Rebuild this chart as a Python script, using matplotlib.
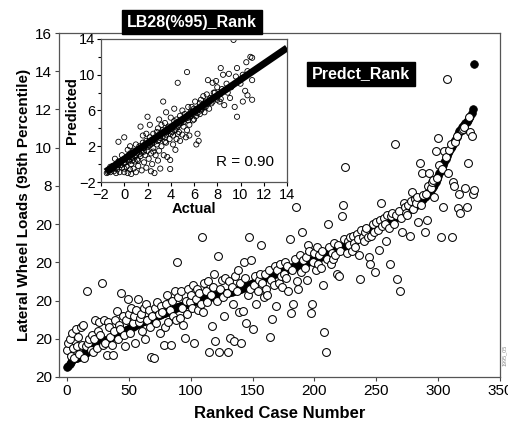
import matplotlib
matplotlib.use("Agg")
import matplotlib.pyplot as plt
import numpy as np
from matplotlib.ticker import MultipleLocator

plt.rcParams['font.family'] = ['Liberation Sans', 'DejaVu Sans']

# ---- main chart data: cases ranked by predicted value ----
pred_rank = [
    -1.5, -1.4, -1.3, -1.2, -1.1, -1.05, -1.02, -1.0, -0.98, -0.96,
    -0.95, -0.9, -0.86, -0.82, -0.77, -0.73, -0.68, -0.64, -0.6, -0.55,
    -0.51, -0.47, -0.42, -0.38, -0.34, -0.29, -0.25, -0.2, -0.17, -0.14,
    -0.11, -0.08, -0.05, -0.02, 0.01, 0.04, 0.08, 0.12, 0.16, 0.2,
    0.23, 0.26, 0.28, 0.3, 0.33, 0.37, 0.4, 0.43, 0.46, 0.5,
    0.53, 0.56, 0.6, 0.63, 0.66, 0.7, 0.73, 0.76, 0.8, 0.83,
    0.86, 0.88, 0.91, 0.94, 0.96, 0.99, 1.02, 1.04, 1.07, 1.1,
    1.12, 1.15, 1.17, 1.2, 1.23, 1.25, 1.28, 1.31, 1.34, 1.37,
    1.39, 1.42, 1.45, 1.48, 1.5, 1.53, 1.56, 1.59, 1.62, 1.65,
    1.68, 1.7, 1.72, 1.74, 1.77, 1.79, 1.81, 1.83, 1.86, 1.88,
    1.9, 1.92, 1.94, 1.97, 1.99, 2.01, 2.03, 2.05, 2.07, 2.08,
    2.1, 2.12, 2.13, 2.15, 2.17, 2.18, 2.2, 2.22, 2.23, 2.25,
    2.27, 2.28, 2.29, 2.3, 2.32, 2.34, 2.35, 2.37, 2.39, 2.4,
    2.42, 2.44, 2.46, 2.47, 2.49, 2.51, 2.53, 2.54, 2.56, 2.58,
    2.6, 2.63, 2.66, 2.69, 2.72, 2.75, 2.78, 2.81, 2.84, 2.87,
    2.9, 2.93, 2.96, 2.99, 3.02, 3.05, 3.08, 3.11, 3.14, 3.17,
    3.2, 3.23, 3.26, 3.29, 3.32, 3.35, 3.37, 3.39, 3.41, 3.43,
    3.46, 3.48, 3.5, 3.52, 3.55, 3.57, 3.59, 3.61, 3.64, 3.66,
    3.68, 3.7, 3.73, 3.75, 3.77, 3.79, 3.82, 3.84, 3.86, 3.89,
    3.91, 3.93, 3.95, 3.98, 4.0, 4.03, 4.06, 4.08, 4.11, 4.14,
    4.16, 4.19, 4.22, 4.25, 4.27, 4.3, 4.33, 4.35, 4.38, 4.41,
    4.43, 4.46, 4.49, 4.51, 4.54, 4.57, 4.6, 4.62, 4.65, 4.67,
    4.71, 4.75, 4.79, 4.83, 4.87, 4.9, 4.94, 4.98, 5.02, 5.06,
    5.1, 5.14, 5.17, 5.21, 5.25, 5.29, 5.33, 5.37, 5.41, 5.45,
    5.49, 5.52, 5.55, 5.58, 5.61, 5.65, 5.68, 5.71, 5.74, 5.78,
    5.81, 5.84, 5.87, 5.9, 5.94, 5.97, 6.0, 6.03, 6.07, 6.1,
    6.13, 6.16, 6.2, 6.24, 6.28, 6.32, 6.36, 6.4, 6.44, 6.48,
    6.52, 6.56, 6.6, 6.64, 6.68, 6.72, 6.76, 6.8, 6.84, 6.88,
    6.92, 6.96, 7.0, 7.05, 7.1, 7.15, 7.2, 7.27, 7.33, 7.4,
    7.48, 7.56, 7.64, 7.72, 7.8, 7.88, 7.96, 8.05, 8.2, 8.35,
    8.5, 8.65, 8.8, 8.95, 9.1, 9.25, 9.4, 9.55, 9.7, 9.85,
    10.0, 10.1, 10.2, 10.3, 10.4, 10.55, 10.7, 10.85, 10.95, 11.1,
    11.15, 11.2, 11.3, 11.35, 11.45, 11.55, 11.65, 11.8, 12.0, 14.4,
]

actual = [
    -0.6, -0.2, 0.0, -0.9, 0.3, -0.5, -1.0, 0.5, -0.4, 0.1,
    -0.8, 0.6, -0.3, 0.7, -1.0, -0.4, 2.5, -0.2, 0.0, -0.6,
    0.2, -0.7, 0.0, 1.0, -0.5, 0.4, 0.9, 0.2, 2.9, -0.3,
    1.0, -0.2, -0.85, 0.9, 0.6, 0.1, -0.3, -0.85, 0.4, 1.0,
    1.46, 0.0, 0.7, 0.5, 2.4, 1.2, 0.2, -0.4, 1.0, 2.1,
    1.3, 0.3, 1.6, 0.8, 1.2, -0.2, 1.5, 2.1, 0.9, 1.1,
    1.3, 0.4, 1.6, 0.0, 1.8, 1.0, 1.5, 0.6, -0.95, 1.2,
    -1.0, 1.6, 0.8, 1.9, 1.3, 0.3, 1.7, 1.4, -0.3, 0.6,
    1.8, 2.3, 0.9, 1.5, -0.3, 2.0, 1.2, 2.5, 1.0, 4.0,
    2.2, 1.1, 2.5, 1.6, 0.7, 0.05, 2.0, 1.3, 2.6, 1.9,
    2.3, 1.6, 2.8, -0.2, 2.1, 2.6, 1.5, 2.4, 1.8, 5.3,
    1.4, 2.9, 2.5, 1.9, 3.0, -0.7, 2.3, 0.68, 2.7, 3.4,
    -0.1, 2.0, 4.35, -0.7, 2.6, 3.1, 2.2, 1.2, 3.2, 2.4,
    -0.7, 3.0, 0.05, 2.7, 1.8, -0.1, 3.3, 2.5, 3.6, 1.4,
    2.9, -0.2, 1.45, 4.0, 3.2, 0.83, 2.3, 5.35, 2.6, 4.1,
    0.5, 2.8, 3.3, 1.8, 2.5, 3.1, 3.4, 4.9, 2.9, 2.2,
    3.4, 2.6, 2.3, 3.6, 0.1, 3.1, 1.05, 2.8, 3.8, 1.7,
    3.6, 2.9, 3.9, 3.3, 2.7, 3.4, 4.0, 3.2, 3.8, 2.5,
    5.2, 1.35, 3.6, 1.8, 4.2, 6.9, 3.0, 2.6, 4.4, 3.5,
    5.6, 4.1, 3.7, 4.3, 3.1, 4.9, 4.6, 1.35, 1.8, 4.0,
    4.5, 3.6, 4.8, 3.9, 4.4, 3.7, 4.6, 2.8, 0.35, -0.7,
    4.2, 6.0, 4.8, 3.9, 4.5, 4.2, 5.0, 4.4, 3.4, 4.9,
    3.3, 4.6, 6.45, 7.0, 5.2, 9.0, 4.5, 5.1, 4.9, 5.3,
    4.6, 5.4, 5.0, 4.8, 5.5, 5.2, 4.4, 3.15, 5.7, 5.3,
    5.1, 5.6, 5.8, 5.3, 4.3, 3.9, 5.4, 6.0, 5.6, 3.5,
    6.1, 5.7, 4.67, 6.2, 7.1, 5.9, 6.3, 6.0, 5.1, 6.5,
    5.8, 3.9, 6.4, 6.6, 6.0, 10.2, 6.5, 3.15, 6.7, 2.5,
    6.3, 5.6, 7.1, 6.9, 6.6, 6.5, 7.0, 5.4, 7.2, 7.7,
    6.8, 7.3, 7.1, 7.4, 6.1, 9.2, 7.0, 8.7, 7.5, 5.6,
    7.6, 6.2, 8.0, 8.65, 7.9, 8.2, 8.3, 7.4, 9.8, 8.4,
    10.5, 9.1, 5.35, 8.9, 6.9, 9.85, 9.5, 13.6, 8.65, 9.9,
    10.2, 5.35, 8.2, 8.0, 10.3, 10.6, 6.85, 7.6, 6.6, 10.9,
    11.0, 11.1, 7.9, 6.9, 9.2, 11.6, 10.8, 10.6, 7.6, 7.8,
]

y_ticks = [-2, 0, 2, 4, 6, 8, 10, 12, 14, 16]
y_tick_labels = ['20', '20', '20', '20', '20', '8', '10', '12', '14', '16']
x_ticks = [0, 50, 100, 150, 200, 250, 300, 350]

# ---- inset data: actual vs predicted ----
inset_actual = [
    -1.5, -1.3, -1.2, -1.0, -1.0, -0.9, -0.8, -0.7, -0.6, -0.5, -0.5, -0.4,
    -0.3, -0.2, -0.1, 0.0, 0.0, 0.1, 0.2, 0.3, 0.3, 0.4, 0.5, 0.5, 0.6, 0.7,
    0.8, 0.8, 0.9, 1.0, -0.5, 0.0, -0.8, -0.2, 0.6, 1.0,
    1.1, 1.2, 1.2, 1.3, 1.4, 1.4, 1.5, 1.5, 1.6, 1.7, 1.7, 1.8, 1.9, 1.9,
    2.0, 2.0, 2.1, 2.1, 2.2, 2.3, 2.3, 2.4, 2.4, 2.5, 2.5, 2.6, 2.6, 2.7,
    2.8, 2.8, 2.9, 2.9, 3.0, 3.0, 3.1, 3.1, 1.0, 1.6, 2.2, 0.5,
    3.2, 3.3, 3.35, 3.4, 3.5, 3.5, 3.6, 3.7, 3.7, 3.8, 3.9, 3.95, 3.95, 4.0,
    4.0, 4.1, 4.2, 4.2, 4.3, 4.4, 4.4, 4.5, 4.5, 4.6, 4.6, 4.7, 4.8, 4.8,
    4.9, 5.0, 5.0, 5.1, 5.1, 3.0, 3.6, 4.3,
    5.2, 5.3, 5.4, 5.4, 5.5, 5.5, 5.6, 5.7, 5.8, 5.9, 6.0, 6.0, 6.1, 6.2,
    6.3, 6.3, 6.4, 6.5, 6.5, 6.6, 6.7, 6.8, 6.9, 7.0, 7.0, 6.2,
    7.1, 7.2, 7.3, 7.4, 7.5, 7.6, 7.7, 7.8, 8.0, 8.0, 8.2, 8.3, 8.3, 8.4,
    8.5, 8.6, 8.8, 9.0, 9.1, 9.2, 9.4, 9.5, 9.6, 9.7, 9.7, 10.0, 10.2, 10.4,
    10.5, 10.6, 10.6, 10.85, 11.0, 11.0, 11.0, 10.2, 7.9, 8.9,
    -1.4, -1.1, -0.9, -0.6, -0.3, 0.1, 0.2, 0.4, 0.6, 0.7, 0.9, 1.1, 1.3,
    1.5, 1.7, 1.8, 2.0, 2.2, 2.4, 2.6, 2.7, 2.9, 3.1, 3.3, 3.4, 3.6, 3.8,
    4.0, 4.1, 4.3, 4.5, 4.7, 4.9, 5.1, 5.3, 5.5, 5.7, 5.9, 6.1, 6.3, 6.6,
    6.8, 7.2, 7.6, 8.1, 8.7, 9.3, -1.2, 0.0, 1.2, 2.5, 3.5, 4.6, 5.6, 0.3,
    1.9, -0.7, 3.2,
]
inset_pred = [
    -1.0, -0.7, -0.9, -0.5, -0.2, -0.8, -0.3, 0.0, -0.6, -0.1, 0.3, -0.9,
    0.2, -0.4, 0.5, -0.9, 0.1, 0.6, -0.3, 0.9, -1.0, 0.3, -0.6, 1.2, 0.0, 0.7,
    -0.5, 1.5, 0.3, 1.0, 2.5, 3.0, 0.6, 1.0, -1.1, -0.9,
    0.5, 1.6, -0.2, 2.0, 0.9, 4.2, 1.3, -0.7, 2.4, 0.2, 1.8, 1.0, 2.6, -0.4,
    1.5, 5.3, 2.2, 0.6, 3.0, 1.2, -0.8, 2.5, 0.0, 3.4, 1.8, 2.8, -1.0, 1.0,
    3.6, 2.2, 0.4, 4.0, 2.7, 1.5, 3.2, -0.5, 2.2, 3.2, 4.4, 2.0,
    2.0, 3.8, 7.0, 1.0, 3.0, 4.6, 2.4, 3.6, 0.8, 4.2, 2.8, 0.46, -0.55, 3.4,
    5.2, 4.0, 2.2, 3.2, 4.8, 3.8, 1.6, 5.0, 2.8, 9.1, 4.2, 3.6, 5.4, 2.6,
    4.6, 3.3, 6.0, 4.2, 5.0, 5.0, 5.8, 6.2,
    5.6, 3.0, 3.8, 10.3, 5.2, 6.4, 3.2, 5.8, 6.4, 4.9, 6.2, 5.0, 7.0, 5.4,
    3.4, 6.0, 2.6, 6.8, 5.6, 7.2, 6.2, 7.6, 5.8, 7.0, 6.4, 2.2,
    7.8, 9.4, 6.2, 7.4, 6.8, 9.1, 8.0, 8.0, 7.2, 8.6, 7.0, 7.3, 10.75, 8.4,
    10.0, 6.6, 9.0, 10.1, 7.4, 8.6, 13.9, 6.4, 9.8, 10.75, 5.3, 9.0, 7.0, 8.2,
    11.4, 7.7, 10.4, 12.0, 11.9, 9.4, 7.2, 10.0, 9.3, 8.0,
    -0.9, -0.6, -0.4, -0.3, -0.1, 0.2, 0.4, 0.5, 0.8, 0.4, 0.9, 1.2, 1.1,
    1.6, 1.4, 2.0, 1.9, 2.1, 2.3, 2.5, 2.9, 2.6, 2.9, 3.1, 3.5, 3.3, 3.7,
    3.9, 3.6, 4.2, 4.1, 4.4, 4.8, 4.7, 5.1, 4.9, 5.3, 5.6, 5.8, 5.7, 6.0,
    6.4, 6.8, 7.0, 7.8, 8.3, 8.8, -0.3, -0.5, 0.4, 1.4, 2.5, 3.4, 4.4, 1.6,
    3.4, -1.0, 4.4,
]
fit_x = [-1.6, 14.0]
fit_y = [-0.85, 13.0]
inset_r = 0.90

cases = np.arange(len(pred_rank))

fig = plt.figure(figsize=(5.08, 4.23), dpi=100)
ax = fig.add_axes([59 / 508, 1 - 377 / 423, 441 / 508, 344 / 423])

ax.scatter(cases, pred_rank, s=30, color='black', edgecolors='black',
           linewidths=0.6, zorder=2)
ax.scatter(cases, actual, s=32, facecolors='white', edgecolors='black',
           linewidths=0.75, zorder=3)

ax.set_xlim(-6.5, 350)
ax.set_ylim(-2, 16)
ax.set_xticks(x_ticks)
ax.set_yticks(y_ticks)
ax.set_yticklabels(y_tick_labels)
ax.tick_params(labelsize=11, length=3, width=0.8, color='#444', pad=2)
for sp in ax.spines.values():
    sp.set_color('#555')
    sp.set_linewidth(0.9)
ax.set_xlabel('Ranked Case Number', fontsize=12, fontweight='bold', labelpad=6)
ax.set_ylabel('Lateral Wheel Loads (95th Percentile)', fontsize=11,
              fontweight='bold', labelpad=3)

ax.text(361 / 508, 1 - 74 / 423, 'Predct_Rank', transform=fig.transFigure,
        ha='center', va='center', fontsize=11.5, fontweight='bold',
        color='white', bbox=dict(boxstyle='square,pad=0.3', fc='black', ec='black'))

# ---- inset ----
axi = fig.add_axes([101 / 508, 1 - 182 / 423, 186 / 508, 143 / 423])
axi.scatter(inset_actual, inset_pred, s=14, facecolors='none',
            edgecolors='black', linewidths=0.6, zorder=2)
axi.plot(fit_x, fit_y, color='black', lw=5, solid_capstyle='butt', zorder=3)
axi.set_xlim(-2, 14)
axi.set_ylim(-2, 14)
axi.set_xticks(range(-2, 15, 2))
axi.set_yticks(range(-2, 15, 4))
axi.yaxis.set_minor_locator(MultipleLocator(2))
axi.tick_params(labelsize=10.5, length=3, width=0.8, pad=1)
axi.tick_params(which='minor', length=2, width=0.8)
for sp in axi.spines.values():
    sp.set_color('#555')
    sp.set_linewidth(0.9)
axi.set_xlabel('Actual', fontsize=10.5, fontweight='bold', labelpad=0)
axi.set_ylabel('Predicted', fontsize=10.5, fontweight='bold', labelpad=0)
axi.text(0.62, 0.14, f'R = {inset_r:.2f}', transform=axi.transAxes,
         fontsize=11, ha='left', va='center')

fig.text(192 / 508, 1 - 22 / 423, 'LB28(%95)_Rank', ha='center', va='center',
         fontsize=11.5, fontweight='bold', color='white',
         bbox=dict(boxstyle='square,pad=0.3', fc='black', ec='black'))

fig.text(0.992, 0.16, '1995_05', rotation=90, fontsize=4, color='#888',
         ha='center', va='center')

fig.savefig('out.png', dpi=100, facecolor='white')
